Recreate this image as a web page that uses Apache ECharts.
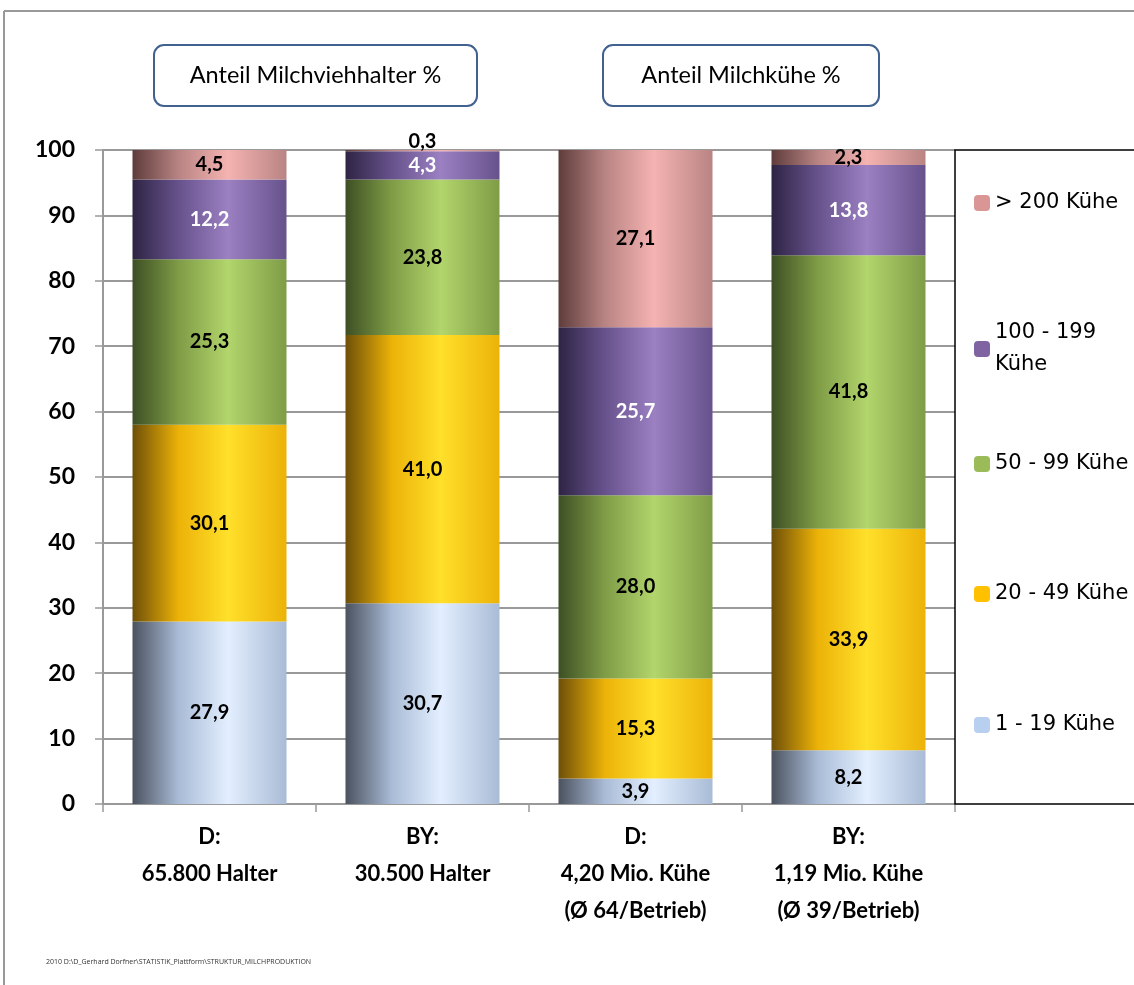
<!DOCTYPE html>
<html>
<head>
<meta charset="utf-8">
<script src="https://cdn.jsdelivr.net/npm/echarts@6/dist/echarts.min.js"></script>
<style>
  html, body { margin: 0; padding: 0; background: #fff; }
  #chart { width: 1134px; height: 985px; }
</style>
</head>
<body>
<div id="chart"></div>
<script>
// Milk production structure: share of farms and cows by herd size (%)
const categories = [
  'D:\n65.800 Halter',
  'BY:\n30.500 Halter',
  'D:\n4,20 Mio. Kühe\n(Ø 64/Betrieb)',
  'BY:\n1,19 Mio. Kühe\n(Ø 39/Betrieb)'
];
const seriesNames = ['1 - 19 Kühe', '20 - 49 Kühe', '50 - 99 Kühe', '100 - 199 Kühe', '> 200 Kühe'];
const size1to19    = [27.9, 30.7, 3.9, 8.2];
const size20to49   = [30.1, 41.0, 15.3, 33.9];
const size50to99   = [25.3, 23.8, 28.0, 41.8];
const size100to199 = [12.2, 4.3, 25.7, 13.8];
const size200plus  = [4.5, 0.3, 27.1, 2.3];
const yTicks = { min: 0, max: 100, interval: 10 };
const boxTitles = ['Anteil Milchviehhalter %', 'Anteil Milchkühe %'];
const footnote = '2010 D:\\D_Gerhard Dorfner\\STATISTIK_Plattform\\STRUKTUR_MILCHPRODUKTION';

const values = [size1to19, size20to49, size50to99, size100to199, size200plus];

// cylinder-like horizontal shading per segment
function shade(dark, light, mid) {
  return new echarts.graphic.LinearGradient(0, 0, 1, 0, [
    { offset: 0, color: dark },
    { offset: 0.3, color: mid },
    { offset: 0.62, color: light },
    { offset: 1, color: mid }
  ]);
}
const fills = [
  shade('#4b525f', '#e3efff', '#a9bbd6'),
  shade('#6e4f08', '#ffe02a', '#ecb208'),
  shade('#3d4f24', '#b2d56c', '#7f9c46'),
  shade('#2e2444', '#9b80c2', '#67528c'),
  shade('#5e3c3b', '#f5b3b1', '#b88483')
];
const legendColors = ['#b9cff0', '#ffc000', '#9bbb59', '#8064a2', '#d99694'];
const labelColors = ['#000', '#000', '#000', '#fff', '#000'];
const legendTops = [704, 573, 443, 312, 182];

const fmt = v => v.toFixed(1).replace('.', ',');
const FONT = 'Lato, "Open Sans", sans-serif';

const series = seriesNames.map((name, i) => ({
  name,
  type: 'bar',
  stack: 'total',
  barWidth: 154,
  itemStyle: { color: fills[i] },
  label: {
    show: true,
    position: 'inside',
    color: labelColors[i],
    fontFamily: FONT,
    fontWeight: 'bold',
    fontSize: 20,
    formatter: p => fmt(p.value)
  },
  data: values[i].map(v => {
    // tiny top segment: value sits above the bar
    if (i === 4 && v < 1) {
      return { value: v, label: { position: 'top', distance: -2 } };
    }
    return v;
  })
}));

const legends = seriesNames.map((name, i) => ({
  left: 969,
  top: legendTops[i],
  itemWidth: 16,
  itemHeight: 16,
  itemGap: 6,
  selectedMode: false,
  data: [{ name, itemStyle: { color: legendColors[i] } }],
  formatter: n => n === '100 - 199 Kühe' ? '100 - 199\nKühe' : n,
  textStyle: {
    fontFamily: '"DejaVu Sans", sans-serif',
    fontSize: 21,
    color: '#000',
    lineHeight: 32
  }
}));

const boxText = (text, x) => ({
  type: 'text', x, y: 75.5, z: 10,
  style: {
    text, fill: '#000', fontFamily: 'Lato, sans-serif', fontSize: 23.5,
    align: 'center', verticalAlign: 'middle'
  }
});

const chart = echarts.init(document.getElementById('chart'), null, { renderer: 'canvas' });
chart.setOption({
  animation: false,
  backgroundColor: '#fff',
  grid: { left: 103, right: 179, top: 150, bottom: 181 },
  legend: legends,
  xAxis: {
    type: 'category',
    data: categories,
    axisLine: { lineStyle: { color: '#999', width: 2 } },
    axisTick: { show: true, length: 8, lineStyle: { color: '#999', width: 1.5 } },
    axisLabel: {
      margin: 14,
      fontFamily: FONT,
      fontWeight: 'bold',
      fontSize: 22,
      color: '#000',
      lineHeight: 37
    }
  },
  yAxis: {
    type: 'value',
    min: yTicks.min,
    max: yTicks.max,
    interval: yTicks.interval,
    axisLine: { show: true, lineStyle: { color: '#999', width: 2 } },
    axisTick: { show: true, length: 8, lineStyle: { color: '#999', width: 1.5 } },
    axisLabel: {
      margin: 28,
      fontFamily: FONT,
      fontWeight: 'bold',
      fontSize: 23,
      color: '#000'
    },
    splitLine: { show: true, lineStyle: { color: '#999', width: 2 } }
  },
  series,
  graphic: [
    // outer frame
    { type: 'line', shape: { x1: 4, y1: 11, x2: 1134, y2: 11 }, style: { stroke: '#999', lineWidth: 2 } },
    { type: 'line', shape: { x1: 4, y1: 11, x2: 4, y2: 985 }, style: { stroke: '#999', lineWidth: 2 } },
    // legend frame
    { type: 'rect', shape: { x: 955, y: 150, width: 200, height: 654 }, style: { fill: 'none', stroke: '#000', lineWidth: 1.5 }, z: 100 },
    // title boxes
    { type: 'rect', shape: { x: 154, y: 45, width: 323, height: 61, r: 10 }, style: { fill: '#fff', stroke: '#41618e', lineWidth: 2 } },
    boxText(boxTitles[0], 315.5),
    { type: 'rect', shape: { x: 603, y: 45, width: 276, height: 61, r: 10 }, style: { fill: '#fff', stroke: '#41618e', lineWidth: 2 } },
    boxText(boxTitles[1], 741),
    { type: 'text', x: 46, y: 958, style: { text: footnote, fill: '#333', fontFamily: '"Open Sans", sans-serif', fontSize: 7 } }
  ]
});
</script>
</body>
</html>
